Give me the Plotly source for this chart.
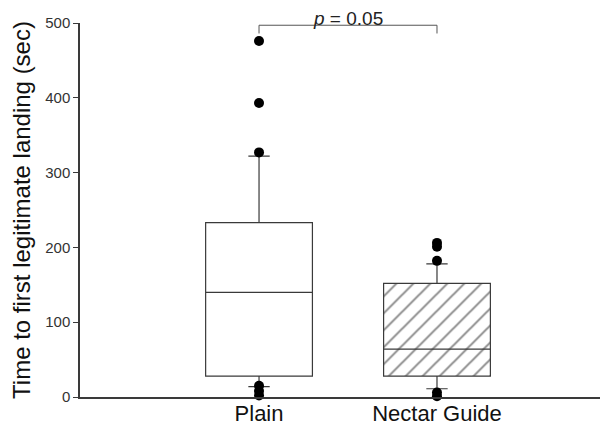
import plotly.graph_objects as go

categories = ["Plain", "Nectar Guide"]
q1 = [28, 28]
median = [140, 64]
q3 = [233, 152]
lower_fence = [14, 11]
upper_fence = [322, 178]
outliers_plain = [476, 393, 327, 15, 8, 2]
outliers_nectar = [206, 201, 182, 6, 1]
bracket_low, bracket_high = 486, 497
p_label = "<i>p</i> = 0.05"
y_ticks = [0, 100, 200, 300, 400, 500]

FONT = "Liberation Sans, Arial, sans-serif"
LINE = "#3a3a3a"

fig = go.Figure()

# hatched fill for the Nectar Guide box
fig.add_trace(go.Bar(
    x=[categories[1]], y=[q3[1] - q1[1]], base=[q1[1]], width=0.6,
    marker=dict(color="white", line=dict(width=0),
                pattern=dict(shape="/", fgcolor="#111", bgcolor="white",
                             size=12, solidity=0.16)),
    showlegend=False, hoverinfo="skip"))

fig.add_trace(go.Box(
    x=categories, q1=q1, median=median, q3=q3,
    lowerfence=lower_fence, upperfence=upper_fence,
    boxpoints=False, width=0.6, whiskerwidth=0.2,
    fillcolor="rgba(0,0,0,0)", line=dict(color=LINE, width=1.2),
    showlegend=False))

fig.add_trace(go.Scatter(
    x=[categories[0]] * len(outliers_plain) + [categories[1]] * len(outliers_nectar),
    y=outliers_plain + outliers_nectar, mode="markers",
    marker=dict(color="black", size=10), cliponaxis=False, showlegend=False))

fig.add_trace(go.Scatter(
    x=[categories[0], categories[0], categories[1], categories[1]],
    y=[bracket_low, bracket_high, bracket_high, bracket_low],
    mode="lines", line=dict(color="#555", width=1), cliponaxis=False,
    showlegend=False, hoverinfo="skip"))

fig.add_annotation(x=0.5, y=bracket_high, xref="x", yref="y", text=p_label,
                   showarrow=False, yanchor="bottom", yshift=-5, borderpad=0,
                   font=dict(family=FONT, size=19, color="#222"))

fig.update_layout(
    width=605, height=417,
    margin=dict(l=72, r=13, t=15, b=28),
    paper_bgcolor="white", plot_bgcolor="white",
    barmode="overlay", boxmode="overlay",
    font=dict(family=FONT, color="#222"),
    xaxis=dict(type="category", categoryorder="array", categoryarray=categories,
               range=[-1.006, 1.916], showline=True, automargin=False,
               linecolor=LINE, linewidth=1.5, ticks="", showgrid=False,
               ticklabelstandoff=-4,
               zeroline=False, tickfont=dict(size=22, color="#111")),
    yaxis=dict(range=[0, 500], tickvals=y_ticks, showline=True, linecolor=LINE,
               linewidth=1.5, ticks="outside", ticklen=5, tickcolor=LINE,
               showgrid=False, zeroline=False, automargin=False,
               tickfont=dict(size=15, color="#333"),
               title=dict(text="Time to first legitimate landing (sec)",
                          font=dict(size=24, color="#111"), standoff=8)),
)

fig.write_html("out.html")
